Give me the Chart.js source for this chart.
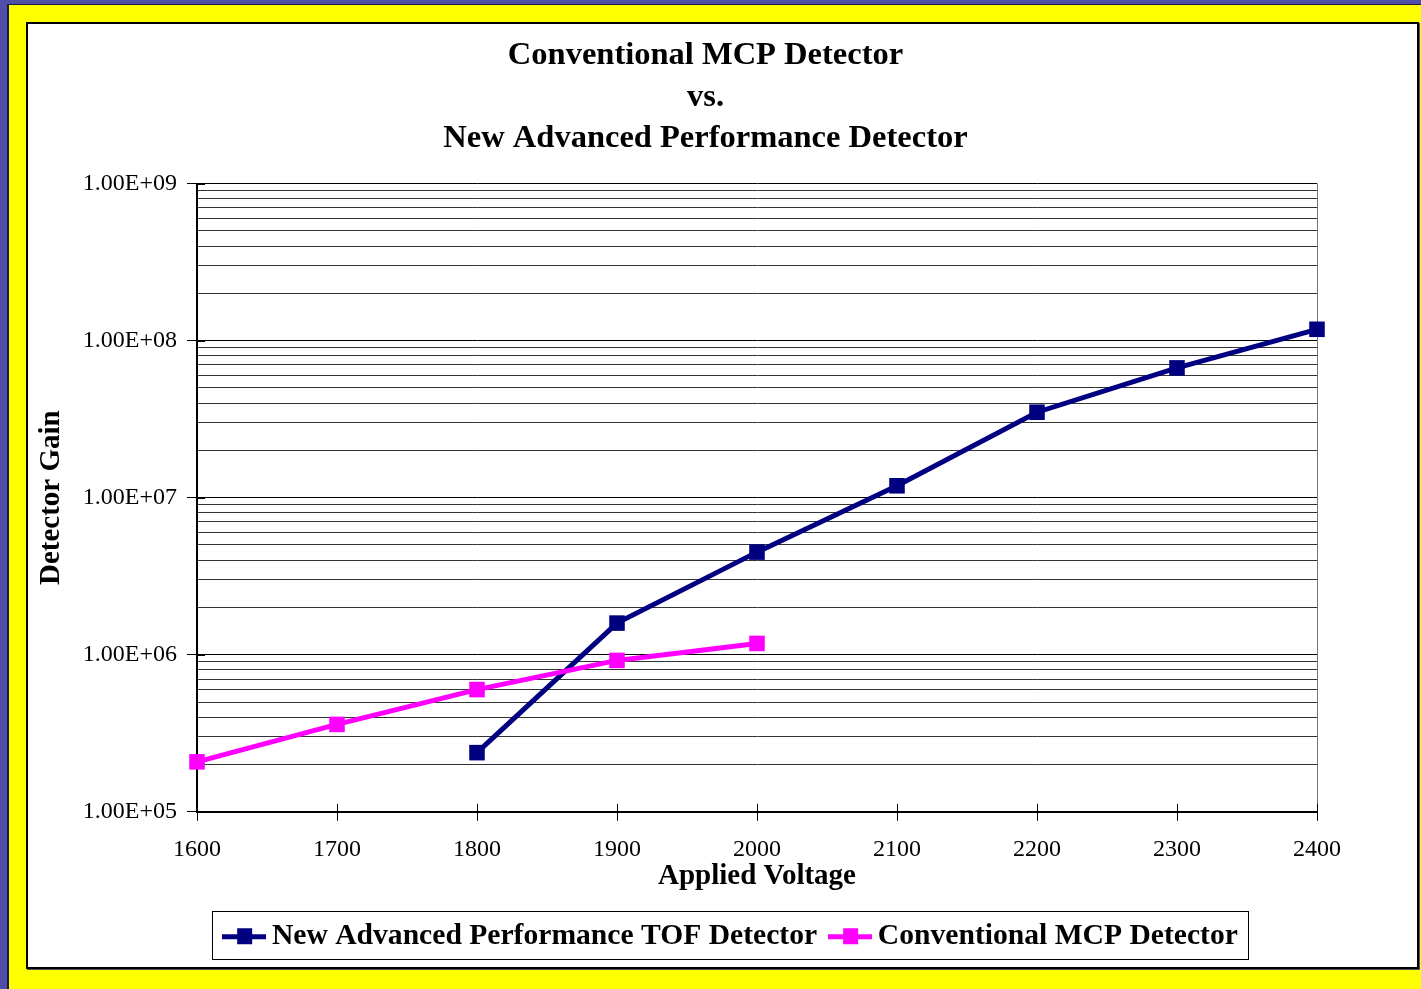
<!DOCTYPE html>
<html>
<head>
<meta charset="utf-8">
<title>Detector Gain</title>
<script src="https://cdn.jsdelivr.net/npm/chart.js@4.4.1/dist/chart.umd.min.js"></script>
<style>
    html, body { margin: 0; padding: 0; }
    body { width: 1421px; height: 989px; position: relative; overflow: hidden; background: #4f4fa8; }
    #yellow { position: absolute; left: 7px; top: 4px; right: 0; bottom: 0; background: #ffff00;
              border-left: 2px solid #1a1a40; border-top: 1px solid #1a1a40; }
    #paper { position: absolute; left: 26px; top: 22px; width: 1393px; height: 947px; box-sizing: border-box;
             background: #fff; border: 2px solid #000; box-shadow: 1px 1px 0 #555; }
    #gainChart { position: absolute; left: 0; top: 0; }
</style>
</head>
<body>
<div id="yellow"></div>
<div id="paper"></div>
<canvas id="gainChart" width="1421" height="989"></canvas>
<script>
// dati
const tofVoltage = [1800, 1900, 2000, 2100, 2200, 2300, 2400];
const tofGain = [2.38e5, 1.59e6, 4.5e6, 1.19e7, 3.5e7, 6.7e7, 1.18e8];

const mcpVoltage = [1600, 1700, 1800, 1900, 2000];
const mcpGain = [2.08e5, 3.6e5, 6.0e5, 9.2e5, 1.18e6];

const gainTicks = [1e5, 1e6, 1e7, 1e8, 1e9];
const gainTickLabels = ["1.00E+05", "1.00E+06", "1.00E+07", "1.00E+08", "1.00E+09"];

const seriesNames = ["New Advanced Performance TOF Detector", "Conventional MCP Detector"];
const titleLines = ["Conventional MCP Detector", "vs.", "New Advanced Performance Detector"];

const tofColor = "#000080";
const mcpColor = "#ff00ff";
const serif = "'Liberation Serif', 'Times New Roman', serif";

// griglia minore: 2..9 per ogni decade
let allTicks = [];
for (let d = 0; d < gainTicks.length; d++) {
    allTicks.push(gainTicks[d]);
    if (d < gainTicks.length - 1) {
        for (let m = 2; m <= 9; m++) allTicks.push(m * gainTicks[d]);
    }
}

function toPoints(xs, ys) {
    return xs.map((x, i) => ({ x: x, y: ys[i] }));
}

// simbolo della legenda: linea con quadratino, come in Excel
function legendMarker(color) {
    const c = document.createElement("canvas");
    c.width = 44;
    c.height = 18;
    const g = c.getContext("2d");
    g.fillStyle = color;
    g.fillRect(0, 7, 44, 5);
    g.fillRect(15, 1, 15, 16);
    return c;
}
const markers = [legendMarker(tofColor), legendMarker(mcpColor)];

// sposta titolo e legenda dove stanno nell'originale
const shiftPlugin = {
    id: "shiftBlocks",
    afterLayout(chart) {
        chart.titleBlock.left += 32;
        chart.titleBlock.right += 32;
        chart.legend.left += 61;
        chart.legend.right += 61;
    }
};

// bordo destro dell'area, tacche interne, cornice della legenda
const framePlugin = {
    id: "frame",
    beforeDatasetsDraw(chart) {
        const { ctx, chartArea } = chart;
        const xs = chart.scales.x;
        const ys = chart.scales.y;
        ctx.save();
        ctx.strokeStyle = "#777";
        ctx.lineWidth = 1;
        ctx.beginPath();
        ctx.moveTo(chartArea.right + 0.5, chartArea.top);
        ctx.lineTo(chartArea.right + 0.5, chartArea.bottom);
        ctx.stroke();

        ctx.strokeStyle = "#000";
        ctx.beginPath();
        xs.ticks.forEach(t => {
            const px = Math.round(xs.getPixelForValue(t.value)) + 0.5;
            ctx.moveTo(px, chartArea.bottom - 8);
            ctx.lineTo(px, chartArea.bottom);
        });
        gainTicks.forEach(v => {
            const py = Math.round(ys.getPixelForValue(v)) + 0.5;
            ctx.moveTo(chartArea.left, py);
            ctx.lineTo(chartArea.left + 8, py);
        });
        ctx.stroke();
        ctx.restore();
    },
    afterDraw(chart) {
        const boxes = chart.legend.legendHitBoxes;
        if (!boxes || !boxes.length) return;
        const first = boxes[0];
        const last = boxes[boxes.length - 1];
        const cy = first.top + first.height / 2;
        const ctx = chart.ctx;
        const x0 = Math.round(first.left - 19);
        ctx.save();
        ctx.strokeStyle = "#000";
        ctx.lineWidth = 1;
        ctx.strokeRect(x0 + 0.5, Math.round(cy - 25) + 0.5,
            Math.round(last.left + last.width + 10) - x0, 48);
        ctx.restore();
    }
};

new Chart(document.getElementById("gainChart"), {
    type: "line",
    data: {
        datasets: [{
            label: seriesNames[0],
            data: toPoints(tofVoltage, tofGain),
            borderColor: tofColor,
            backgroundColor: tofColor,
            borderWidth: 5,
            pointStyle: "rect",
            pointRadius: 11,
            pointBorderWidth: 0,
            tension: 0,
            clip: false,
            order: 1
        }, {
            label: seriesNames[1],
            data: toPoints(mcpVoltage, mcpGain),
            borderColor: mcpColor,
            backgroundColor: mcpColor,
            borderWidth: 5,
            pointStyle: "rect",
            pointRadius: 11,
            pointBorderWidth: 0,
            tension: 0,
            clip: false,
            order: 0
        }]
    },
    plugins: [shiftPlugin, framePlugin],
    options: {
        responsive: false,
        animation: false,
        layout: { padding: { left: 30, right: 104, top: 22, bottom: 28 } },
        plugins: {
            tooltip: { enabled: false },
            title: {
                display: true,
                text: titleLines,
                color: "#000",
                font: { family: serif, size: 32.5, weight: "bold", lineHeight: 1.277 },
                padding: { top: 13, bottom: 24 }
            },
            legend: {
                position: "bottom",
                labels: {
                    color: "#000",
                    font: { family: serif, size: 29.6, weight: "bold" },
                    usePointStyle: true,
                    pointStyleWidth: 26,
                    padding: 20,
                    sort: (a, b) => a.datasetIndex - b.datasetIndex,
                    generateLabels(chart) {
                        const items = Chart.defaults.plugins.legend.labels.generateLabels(chart);
                        items.forEach(it => { it.pointStyle = markers[it.datasetIndex]; });
                        return items;
                    }
                }
            }
        },
        scales: {
            x: {
                type: "linear",
                min: 1600,
                max: 2400,
                ticks: {
                    stepSize: 100,
                    color: "#000",
                    padding: 15,
                    font: { family: serif, size: 24 },
                    callback: value => String(value)
                },
                grid: { drawOnChartArea: false, color: "#000", tickLength: 9 },
                border: { color: "#000", width: 2 },
                title: {
                    display: true,
                    text: "Applied Voltage",
                    color: "#000",
                    font: { family: serif, size: 29, weight: "bold" },
                    padding: { top: -20, bottom: 7 }
                }
            },
            y: {
                type: "logarithmic",
                min: 1e5,
                max: 1e9,
                afterBuildTicks: scale => {
                    scale.ticks = allTicks.map(v => ({ value: v }));
                },
                afterFit: scale => {
                    scale.width = 167;
                },
                ticks: {
                    autoSkip: false,
                    color: "#000",
                    padding: 10,
                    font: { family: serif, size: 24 },
                    callback: value => {
                        const i = gainTicks.indexOf(value);
                        return i === -1 ? "" : gainTickLabels[i];
                    }
                },
                grid: {
                    color: ctx => gainTicks.includes(ctx.tick.value) ? "#000" : "#333",
                    tickColor: ctx => gainTicks.includes(ctx.tick.value) ? "#000" : "rgba(0,0,0,0)",
                    tickLength: 10,
                    lineWidth: 1
                },
                border: { color: "#000", width: 2 },
                title: {
                    display: true,
                    text: "Detector Gain",
                    color: "#000",
                    font: { family: serif, size: 29, weight: "bold" },
                    padding: { top: 4.6, bottom: 0 }
                }
            }
        }
    }
});
</script>
</body>
</html>
